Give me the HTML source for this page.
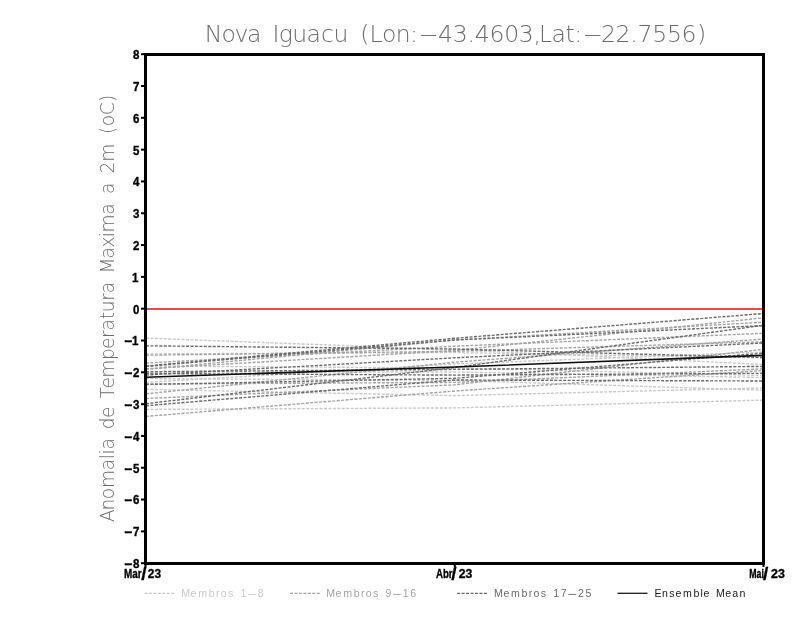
<!DOCTYPE html>
<html lang="pt"><head><meta charset="utf-8"><title>Nova Iguacu</title>
<style>html,body{margin:0;padding:0;background:#fff}svg{display:block}.t{font-family:"DejaVu Sans Light", "DejaVu Sans", "Liberation Sans", sans-serif;font-weight:200}.b{font-family:"Liberation Sans", sans-serif;font-weight:700;fill:#000;stroke:#000;stroke-width:.35px}.l{font-family:"Liberation Sans", sans-serif;font-weight:400}</style></head><body>
<svg width="800" height="618" viewBox="0 0 800 618">
<rect width="800" height="618" fill="#fff"/>
<text class="t" y="41.6" font-size="23.5" fill="#6a6a6a" xml:space="preserve"><tspan x="204.8 221.4 234.5 247.1 263.4 272.5 278.8 292.3 306.5 320.9 333.4 350.0 360.2 369.6 382.1 395.8 409.9">Nova Iguacu (Lon:</tspan><tspan x="417.9" textLength="21.1" lengthAdjust="spacingAndGlyphs">-</tspan><tspan x="438.1 452.8 467.5 474.8 489.5 504.2 518.8 533.6 539.1 551.6 565.6 574.3">43.4603,Lat:</tspan><tspan x="582.2" textLength="21.1" lengthAdjust="spacingAndGlyphs">-</tspan><tspan x="600.9 615.6 630.3 637.6 652.2 666.9 681.6 697.0">22.7556)</tspan></text>
<text class="t" transform="translate(113.7 520.9) rotate(-90)" y="0.0" font-size="18.6" fill="#6a6a6a" xml:space="preserve"><tspan x="-1.1 10.3 21.7 32.8 50.6 61.7 66.4 71.3 84.4 91.7 102.8 115.6 122.3 132.3 143.2 160.8 171.9 182.9 190.5 201.7 208.6 220.1 227.6 240.7 247.4 262.5 273.3 283.6 288.3 306.1 319.2 326.8 339.8 347.5 359.1 378.8 387.0 394.6 405.6 418.8">Anomalia de Temperatura Maxima a 2m (oC)</tspan></text>
<polyline points="146.0,338.1 454.8,349.7 763.5,364.4" fill="none" stroke="#c8c8c8" stroke-width="1.4" stroke-dasharray="3 1.45"/>
<polyline points="146.0,353.9 454.8,352.5 763.5,358.0" fill="none" stroke="#c8c8c8" stroke-width="1.4" stroke-dasharray="3 1.45"/>
<polyline points="146.0,378.6 454.8,380.4 763.5,390.2" fill="none" stroke="#c8c8c8" stroke-width="1.4" stroke-dasharray="3 1.45"/>
<polyline points="146.0,382.3 454.8,364.0 763.5,352.0" fill="none" stroke="#c8c8c8" stroke-width="1.4" stroke-dasharray="3 1.45"/>
<polyline points="146.0,389.4 454.8,395.6 763.5,388.0" fill="none" stroke="#c8c8c8" stroke-width="1.4" stroke-dasharray="3 1.45"/>
<polyline points="146.0,409.4 454.8,407.9 763.5,400.1" fill="none" stroke="#c8c8c8" stroke-width="1.4" stroke-dasharray="3 1.45"/>
<polyline points="146.0,366.0 454.8,368.0 763.5,375.5" fill="none" stroke="#c8c8c8" stroke-width="1.4" stroke-dasharray="3 1.45"/>
<polyline points="146.0,372.0 454.8,372.0 763.5,377.5" fill="none" stroke="#c8c8c8" stroke-width="1.4" stroke-dasharray="3 1.45"/>
<polyline points="146.0,355.2 454.8,351.3 763.5,341.8" fill="none" stroke="#a2a2a2" stroke-width="1.4" stroke-dasharray="3 1.45"/>
<polyline points="146.0,363.0 454.8,346.2 763.5,333.3" fill="none" stroke="#a2a2a2" stroke-width="1.4" stroke-dasharray="3 1.45"/>
<polyline points="146.0,368.8 454.8,350.5 763.5,317.8" fill="none" stroke="#a2a2a2" stroke-width="1.4" stroke-dasharray="3 1.45"/>
<polyline points="146.0,393.8 454.8,362.2 763.5,339.0" fill="none" stroke="#a2a2a2" stroke-width="1.4" stroke-dasharray="3 1.45"/>
<polyline points="146.0,398.5 454.8,384.8 763.5,349.3" fill="none" stroke="#a2a2a2" stroke-width="1.4" stroke-dasharray="3 1.45"/>
<polyline points="146.0,416.4 454.8,391.0 763.5,370.5" fill="none" stroke="#a2a2a2" stroke-width="1.4" stroke-dasharray="3 1.45"/>
<polyline points="146.0,384.0 454.8,382.4 763.5,368.9" fill="none" stroke="#a2a2a2" stroke-width="1.4" stroke-dasharray="3 1.45"/>
<polyline points="146.0,369.5 454.8,340.0 763.5,322.2" fill="none" stroke="#a2a2a2" stroke-width="1.4" stroke-dasharray="3 1.45"/>
<polyline points="146.0,345.8 454.8,349.0 763.5,357.5" fill="none" stroke="#6a6a6a" stroke-width="1.4" stroke-dasharray="3 1.45"/>
<polyline points="146.0,366.0 454.8,338.3 763.5,313.5" fill="none" stroke="#6a6a6a" stroke-width="1.4" stroke-dasharray="3 1.45"/>
<polyline points="146.0,366.4 454.8,340.0 763.5,325.6" fill="none" stroke="#6a6a6a" stroke-width="1.4" stroke-dasharray="3 1.45"/>
<polyline points="146.0,375.0 454.8,357.8 763.5,343.0" fill="none" stroke="#6a6a6a" stroke-width="1.4" stroke-dasharray="3 1.45"/>
<polyline points="146.0,384.5 454.8,378.3 763.5,353.1" fill="none" stroke="#6a6a6a" stroke-width="1.4" stroke-dasharray="3 1.45"/>
<polyline points="146.0,403.7 454.8,367.5 763.5,325.3" fill="none" stroke="#6a6a6a" stroke-width="1.4" stroke-dasharray="3 1.45"/>
<polyline points="146.0,405.7 454.8,380.0 763.5,381.0" fill="none" stroke="#6a6a6a" stroke-width="1.4" stroke-dasharray="3 1.45"/>
<polyline points="146.0,371.7 454.8,369.4 763.5,366.4" fill="none" stroke="#6a6a6a" stroke-width="1.4" stroke-dasharray="3 1.45"/>
<polyline points="146.0,373.5 454.8,375.1 763.5,373.3" fill="none" stroke="#6a6a6a" stroke-width="1.4" stroke-dasharray="3 1.45"/>
<rect x="146" y="308" width="617" height="2" fill="#fa4444"/>
<polyline points="146.0,377.2 454.8,367.0 763.5,355.4" fill="none" stroke="#0c0c0c" stroke-width="1.6"/>
<g fill="#000">
<rect x="144" y="53" width="3" height="512"/>
<rect x="762" y="53" width="3" height="512"/>
<rect x="144" y="53" width="621" height="3"/>
<rect x="144" y="562" width="621" height="3"/>
<rect x="141" y="53.20" width="4" height="2"/>
<rect x="141" y="85.01" width="4" height="2"/>
<rect x="141" y="116.83" width="4" height="2"/>
<rect x="141" y="148.64" width="4" height="2"/>
<rect x="141" y="180.45" width="4" height="2"/>
<rect x="141" y="212.26" width="4" height="2"/>
<rect x="141" y="244.07" width="4" height="2"/>
<rect x="141" y="275.89" width="4" height="2"/>
<rect x="141" y="307.70" width="4" height="2"/>
<rect x="141" y="339.51" width="4" height="2"/>
<rect x="141" y="371.32" width="4" height="2"/>
<rect x="141" y="403.14" width="4" height="2"/>
<rect x="141" y="434.95" width="4" height="2"/>
<rect x="141" y="466.76" width="4" height="2"/>
<rect x="141" y="498.57" width="4" height="2"/>
<rect x="141" y="530.39" width="4" height="2"/>
<rect x="141" y="562.20" width="4" height="2"/>
<rect x="144.5" y="564" width="2" height="3"/>
<rect x="453.8" y="564" width="2" height="3"/>
<rect x="762.5" y="564" width="2" height="3"/>
</g>
<text class="b" x="133.0" y="59.10" font-size="12.5" textLength="6.4" lengthAdjust="spacingAndGlyphs">8</text>
<text class="b" x="133.0" y="90.91" font-size="12.5" textLength="6.4" lengthAdjust="spacingAndGlyphs">7</text>
<text class="b" x="133.0" y="122.73" font-size="12.5" textLength="6.4" lengthAdjust="spacingAndGlyphs">6</text>
<text class="b" x="133.0" y="154.54" font-size="12.5" textLength="6.4" lengthAdjust="spacingAndGlyphs">5</text>
<text class="b" x="133.0" y="186.35" font-size="12.5" textLength="6.4" lengthAdjust="spacingAndGlyphs">4</text>
<text class="b" x="133.0" y="218.16" font-size="12.5" textLength="6.4" lengthAdjust="spacingAndGlyphs">3</text>
<text class="b" x="133.0" y="249.97" font-size="12.5" textLength="6.4" lengthAdjust="spacingAndGlyphs">2</text>
<text class="b" x="131.9" y="281.79" font-size="12.5" textLength="6.4" lengthAdjust="spacingAndGlyphs">1</text>
<text class="b" x="133.0" y="313.60" font-size="12.5" textLength="6.4" lengthAdjust="spacingAndGlyphs">0</text>
<text class="b" x="131.9" y="345.41" font-size="12.5" textLength="6.4" lengthAdjust="spacingAndGlyphs">1</text>
<text class="b" x="123.9" y="345.41" font-size="12.5" textLength="8.6" lengthAdjust="spacingAndGlyphs">-</text>
<text class="b" x="133.0" y="377.22" font-size="12.5" textLength="6.4" lengthAdjust="spacingAndGlyphs">2</text>
<text class="b" x="123.9" y="377.22" font-size="12.5" textLength="8.6" lengthAdjust="spacingAndGlyphs">-</text>
<text class="b" x="133.0" y="409.04" font-size="12.5" textLength="6.4" lengthAdjust="spacingAndGlyphs">3</text>
<text class="b" x="123.9" y="409.04" font-size="12.5" textLength="8.6" lengthAdjust="spacingAndGlyphs">-</text>
<text class="b" x="133.0" y="440.85" font-size="12.5" textLength="6.4" lengthAdjust="spacingAndGlyphs">4</text>
<text class="b" x="123.9" y="440.85" font-size="12.5" textLength="8.6" lengthAdjust="spacingAndGlyphs">-</text>
<text class="b" x="133.0" y="472.66" font-size="12.5" textLength="6.4" lengthAdjust="spacingAndGlyphs">5</text>
<text class="b" x="123.9" y="472.66" font-size="12.5" textLength="8.6" lengthAdjust="spacingAndGlyphs">-</text>
<text class="b" x="133.0" y="504.47" font-size="12.5" textLength="6.4" lengthAdjust="spacingAndGlyphs">6</text>
<text class="b" x="123.9" y="504.47" font-size="12.5" textLength="8.6" lengthAdjust="spacingAndGlyphs">-</text>
<text class="b" x="133.0" y="536.29" font-size="12.5" textLength="6.4" lengthAdjust="spacingAndGlyphs">7</text>
<text class="b" x="123.9" y="536.29" font-size="12.5" textLength="8.6" lengthAdjust="spacingAndGlyphs">-</text>
<text class="b" x="133.0" y="568.10" font-size="12.5" textLength="6.4" lengthAdjust="spacingAndGlyphs">8</text>
<text class="b" x="123.9" y="568.10" font-size="12.5" textLength="8.6" lengthAdjust="spacingAndGlyphs">-</text>
<text class="b" y="577.6" font-size="12.6"><tspan x="124.0" textLength="17.6" lengthAdjust="spacingAndGlyphs">Mar</tspan><tspan x="141.2" dy="2.3" font-size="19">/</tspan><tspan x="147.8" dy="-2.3" textLength="13.2" lengthAdjust="spacingAndGlyphs">23</tspan></text>
<text class="b" y="577.6" font-size="12.6"><tspan x="436.0" textLength="16.6" lengthAdjust="spacingAndGlyphs">Abr</tspan><tspan x="451.3" dy="2.3" font-size="19">/</tspan><tspan x="458.7" dy="-2.3" textLength="13.6" lengthAdjust="spacingAndGlyphs">23</tspan></text>
<text class="b" y="577.6" font-size="12.6"><tspan x="749.3" textLength="14.6" lengthAdjust="spacingAndGlyphs">Mai</tspan><tspan x="763.0" dy="2.3" font-size="19">/</tspan><tspan x="771.0" dy="-2.3" textLength="13.8" lengthAdjust="spacingAndGlyphs">23</tspan></text>
<line x1="144.5" y1="593.3" x2="174.5" y2="593.3" stroke="#c8c8c8" stroke-width="1.2" stroke-dasharray="3 1.45"/>
<text class="l" y="596.7" font-size="10.6" fill="#c8c8c8" xml:space="preserve"><tspan x="181.3 190.6 198.2 208.8 216.0 220.8 227.9 235.2 240.5">Membros 1</tspan><tspan x="246.8" textLength="10.6" lengthAdjust="spacingAndGlyphs">-</tspan><tspan x="257.8">8</tspan></text>
<line x1="290.0" y1="593.3" x2="320.0" y2="593.3" stroke="#a2a2a2" stroke-width="1.2" stroke-dasharray="3 1.45"/>
<text class="l" y="596.7" font-size="10.6" fill="#a2a2a2" xml:space="preserve"><tspan x="326.3 335.6 343.2 353.8 361.0 365.8 372.9 380.2 385.5">Membros 9</tspan><tspan x="391.8" textLength="10.6" lengthAdjust="spacingAndGlyphs">-</tspan><tspan x="402.8 410.3">16</tspan></text>
<line x1="457.2" y1="593.3" x2="487.2" y2="593.3" stroke="#6a6a6a" stroke-width="1.2" stroke-dasharray="3 1.45"/>
<text class="l" y="596.7" font-size="10.6" fill="#6a6a6a" xml:space="preserve"><tspan x="494.1 503.4 511.0 521.6 528.8 533.6 540.7 548.0 553.3 560.8">Membros 17</tspan><tspan x="567.1" textLength="10.6" lengthAdjust="spacingAndGlyphs">-</tspan><tspan x="578.1 585.6">25</tspan></text>
<line x1="617.5" y1="593.3" x2="647.5" y2="593.3" stroke="#1a1a1a" stroke-width="1.3"/>
<text class="l" y="596.7" font-size="10.6" fill="#1a1a1a" xml:space="preserve"><tspan x="654.4 662.1 669.2 675.5 683.0 693.6 700.5 703.6 711.4 716.0 725.3 732.3 739.4">Ensemble Mean</tspan></text>
</svg></body></html>
